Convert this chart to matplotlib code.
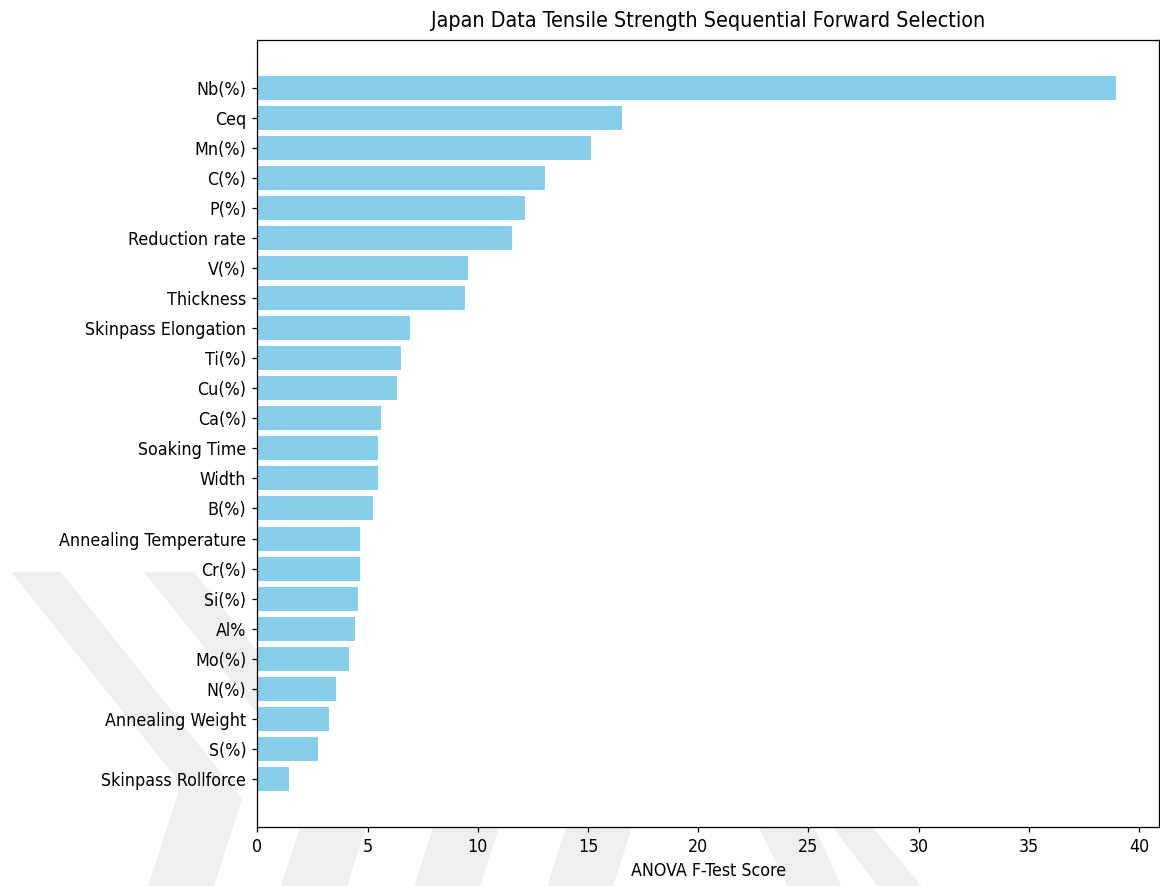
import matplotlib
matplotlib.use("Agg")
import matplotlib.pyplot as plt
from matplotlib.patches import Polygon

# Feature names, top to bottom
features = [
    "Nb(%)", "Ceq", "Mn(%)", "C(%)", "P(%)", "Reduction rate", "V(%)",
    "Thickness", "Skinpass Elongation", "Ti(%)", "Cu(%)", "Ca(%)",
    "Soaking Time", "Width", "B(%)", "Annealing Temperature", "Cr(%)",
    "Si(%)", "Al%", "Mo(%)", "N(%)", "Annealing Weight", "S(%)",
    "Skinpass Rollforce",
]

# ANOVA F-test scores
scores = [
    38.95, 16.55, 15.15, 13.04, 12.16, 11.57, 9.57,
    9.44, 6.94, 6.51, 6.35, 5.63,
    5.48, 5.48, 5.25, 4.67, 4.67,
    4.58, 4.45, 4.16, 3.57, 3.27, 2.77,
    1.44,
]

plt.rcParams["font.family"] = ["DejaVu Sans Condensed", "DejaVu Sans"]
plt.rcParams["font.stretch"] = "condensed"
plt.rcParams["font.size"] = 11.3
plt.rcParams["axes.titlesize"] = 13.6

W, H, DPI = 1160, 886, 113
fig = plt.figure(figsize=(W / DPI, H / DPI), dpi=DPI)
fig.patch.set_facecolor("white")

# light background chevron stripes (figure pixel coordinates)
def fig_poly(pts):
    return Polygon([(x / W, 1 - y / H) for x, y in pts], closed=True,
                   transform=fig.transFigure, facecolor="#efefef",
                   edgecolor="none", zorder=0)

for off in (0, 133, 266, 399):
    pts = [(11 + off, 572), (61 + off, 572), (242 + off, 799),
           (208 + off, 905), (142 + off, 905), (181 + off, 784)]
    fig.add_artist(fig_poly(pts))
for pts in ([(745, 800), (802, 800), (850, 905), (797, 905)],
            [(812, 800), (850, 800), (937, 905), (892, 905)]):
    fig.add_artist(fig_poly(pts))

ax = fig.add_axes([257.3 / W, 1 - 826.7 / H, 901.7 / W, 786.7 / H])
ax.set_facecolor("white")
ax.set_zorder(2)

ax.barh(features, scores, color="skyblue")
ax.invert_yaxis()

ax.set_xlabel("ANOVA F-Test Score")
ax.set_title("Japan Data Tensile Strength Sequential Forward Selection", pad=8.5)

fig.savefig("out.png", dpi=DPI, facecolor="white")
